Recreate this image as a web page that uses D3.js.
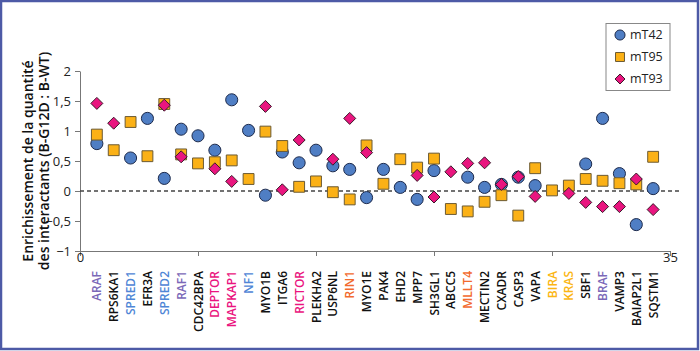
<!DOCTYPE html>
<html><head><meta charset="utf-8">
<script src="https://cdn.jsdelivr.net/npm/d3@7"></script>
<style>
html,body{margin:0;padding:0;background:#fff;}
svg{display:block;font-family:"Open Sans",sans-serif;}
</style></head><body>
<svg id="c" width="700" height="351"></svg>
<script>
const genes = ["ARAF","RPS6KA1","SPRED1","EFR3A","SPRED2","RAF1","CDC42BPA","DEPTOR","MAPKAP1","NF1","MYO1B","ITGA6","RICTOR","PLEKHA2","USP6NL","RIN1","MYO1E","PAK4","EHD2","MPP7","SH3GL1","ABCC5","MLLT4","MECTIN2","CXADR","CASP3","VAPA","BIRA","KRAS","SBF1","BRAF","VAMP3","BAIAP2L1","SQSTM1"];
const geneGroup = ["raf","","spred","","spred","raf","","mtor","mtor","spred","","","mtor","","","rin","","","","","","","rin","","","","","ras","ras","","raf","","",""];
const mT42 = [0.79,null,0.55,1.21,0.21,1.03,0.92,0.68,1.52,1.01,-0.07,0.65,0.47,0.68,0.42,0.36,-0.11,0.36,0.06,-0.14,0.34,null,0.23,0.06,0.11,0.23,0.09,null,null,0.45,1.21,0.29,-0.56,0.04];
const mT95 = [0.94,0.68,1.15,0.58,1.45,0.61,0.46,0.48,0.51,0.2,0.99,0.75,0.07,0.16,-0.02,-0.14,0.76,0.12,0.53,0.39,0.54,-0.3,-0.34,-0.18,-0.07,-0.41,0.38,0.01,0.09,0.2,0.17,0.13,0.11,0.57];
const mT93 = [1.46,1.13,null,null,1.43,0.57,null,0.37,0.16,null,1.41,0.02,0.85,null,0.53,1.21,0.64,null,null,0.26,-0.1,0.32,0.46,0.47,0.11,0.24,-0.09,null,-0.04,-0.19,-0.26,-0.26,0.2,-0.31];
const yTicks = [2,1.5,1,0.5,0,-0.5,-1];
const xTicks = [0,7,14,21,28,35];
const xTickLabels = {0:"0",35:"35"};
const seriesNames = ["mT42","mT95","mT93"];

const groupColor = {"raf":"#7b68b8","spred":"#4f86d6","mtor":"#ea1480","rin":"#f26a2e","ras":"#fbb614","":"#111"};
const fills = {mT42:"#4f7ec4",mT95:"#fbb116",mT93:"#e9157f"};
const strokes = {mT42:"#1e2b4c",mT95:"#6b5a33",mT93:"#3a1a2a"};

const svg = d3.select("#c");
svg.append("rect").attr("x",1).attr("y",1).attr("width",697).attr("height",348)
  .attr("fill","none").attr("stroke","#4d5aa6").attr("stroke-width",2.5);

const x = d3.scaleLinear().domain([0,35]).range([80,670]);
const y = d3.scaleLinear().domain([-1,2]).range([251,71]);

const ya = svg.append("g").attr("transform","translate(80,0)")
  .call(d3.axisLeft(y).tickValues(yTicks).tickSize(5).tickSizeOuter(0).tickFormat(d=>d3.format("")(d).replace(".",",")));
ya.select(".domain").attr("stroke","#777");
ya.selectAll(".tick line").attr("stroke","#777");
ya.selectAll("text").attr("font-size",13).attr("fill","#222").attr("font-family","Open Sans, sans-serif").attr("dx",-1);

const xa = svg.append("g").attr("transform","translate(0,251)")
  .call(d3.axisBottom(x).tickValues(xTicks).tickSize(5).tickSizeOuter(0).tickFormat(d=>xTickLabels[d]||""));
xa.select(".domain").attr("stroke","#777");
xa.selectAll(".tick line").attr("stroke","#777");
xa.selectAll("text").attr("font-size",13).attr("fill","#222").attr("font-family","Open Sans, sans-serif").attr("dy","0.2em");

svg.append("line").attr("x1",80).attr("x2",679).attr("y1",y(0)).attr("y2",y(0))
  .attr("stroke","#444").attr("stroke-width",1.5).attr("stroke-dasharray","4,3");

svg.append("g").selectAll("text").data(genes).join("text")
  .attr("transform",(d,i)=>`translate(${x(i+1)+4.5},271) rotate(-90)`)
  .attr("text-anchor","end")
  .attr("font-size",12).attr("font-weight",600)
  .attr("fill",(d,i)=>groupColor[geneGroup[i]])
  .text(d=>d);

const yt = svg.append("text").attr("transform","translate(33,161) rotate(-90)")
  .attr("text-anchor","middle").attr("font-size",14).attr("font-weight",600).attr("fill","#111");
yt.append("tspan").attr("x",0).attr("dy",0).text("Enrichissement de la quantité");
yt.append("tspan").attr("x",0).attr("dy",15.5).text("des interactants (B-G12D : B-WT)");

function pts(arr){ return arr.map((v,i)=>({i:i+1,v})).filter(d=>d.v!==null); }
const diamond = {draw(ctx,size){const r=Math.sqrt(size/2);ctx.moveTo(0,-r);ctx.lineTo(r,0);ctx.lineTo(0,r);ctx.lineTo(-r,0);ctx.closePath();}};
const sym = {mT42:d3.symbolCircle,mT95:d3.symbolSquare,mT93:diamond};
const sz = {mT42:115,mT95:118,mT93:72};
const data = {mT42,mT95,mT93};
seriesNames.forEach(s=>{
  svg.append("g").selectAll("path").data(pts(data[s])).join("path")
    .attr("transform",d=>`translate(${x(d.i)},${y(d.v)})`)
    .attr("d",d3.symbol(sym[s],sz[s]))
    .attr("fill",fills[s]).attr("stroke",strokes[s]).attr("stroke-width",1);
});

const lg = svg.append("g");
lg.append("rect").attr("x",606).attr("y",23.5).attr("width",64).attr("height",67)
  .attr("fill","#fff").attr("stroke","#888").attr("stroke-width",1);
seriesNames.forEach((s,k)=>{
  const yy = 35+k*22;
  lg.append("path").attr("transform",`translate(620,${yy})`)
    .attr("d",d3.symbol(sym[s],s==="mT93"?50:80)).attr("fill",fills[s]).attr("stroke",strokes[s]);
  lg.append("text").attr("x",630).attr("y",yy).attr("dy","0.35em").attr("font-size",12.5).attr("fill","#222").text(s);
});
</script></body></html>
